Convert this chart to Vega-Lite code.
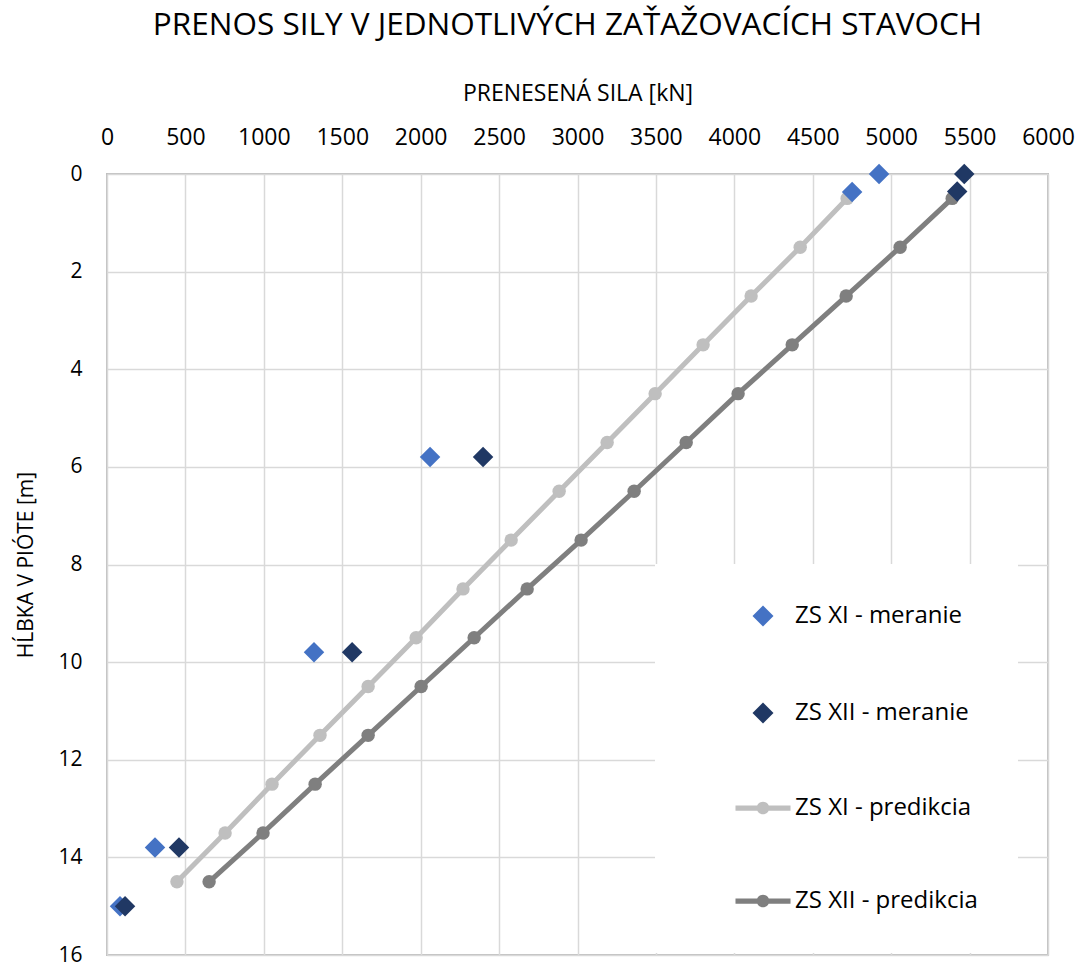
{
  "$schema": "https://vega.github.io/schema/vega-lite/v6.json",
  "autosize": {"type": "none"},
  "padding": {"left": 107, "top": 174, "right": 36, "bottom": 9},
  "width": 941,
  "height": 781,
  "background": "white",
  "title": {
    "text": "PRENOS SILY V JEDNOTLIVÝCH ZAŤAŽOVACÍCH STAVOCH",
    "font": "Open Sans",
    "fontSize": 31.5,
    "fontWeight": "normal",
    "color": "#000000",
    "anchor": "middle",
    "dx": -10,
    "offset": 41
  },
  "config": {
    "font": "Open Sans",
    "view": {"stroke": "#BFBFBF", "strokeWidth": 2},
    "axis": {
      "labelFont": "Open Sans",
      "titleFont": "Open Sans",
      "labelColor": "#000000",
      "titleColor": "#000000",
      "titleFontWeight": "normal",
      "gridColor": "#D9D9D9",
      "gridWidth": 1.5,
      "domain": false,
      "ticks": false,
      "tickSize": 0
    },
    "legend": {
      "labelFont": "Open Sans",
      "labelFontSize": 24,
      "labelColor": "#000000",
      "labelLimit": 400
    }
  },
  "data": {
    "values": [
      {"series": "ZS XI - meranie", "force": 4923, "depth": 0},
      {"series": "ZS XI - meranie", "force": 4751, "depth": 0.37},
      {"series": "ZS XI - meranie", "force": 2060, "depth": 5.8},
      {"series": "ZS XI - meranie", "force": 1320, "depth": 9.8},
      {"series": "ZS XI - meranie", "force": 306, "depth": 13.8},
      {"series": "ZS XI - meranie", "force": 83, "depth": 15},
      {"series": "ZS XII - meranie", "force": 5466, "depth": 0},
      {"series": "ZS XII - meranie", "force": 5421, "depth": 0.36},
      {"series": "ZS XII - meranie", "force": 2398, "depth": 5.8},
      {"series": "ZS XII - meranie", "force": 1563, "depth": 9.8},
      {"series": "ZS XII - meranie", "force": 459, "depth": 13.8},
      {"series": "ZS XII - meranie", "force": 115, "depth": 15},
      {"series": "ZS XI - predikcia", "force": 4719, "depth": 0.5},
      {"series": "ZS XI - predikcia", "force": 4420, "depth": 1.5},
      {"series": "ZS XI - predikcia", "force": 4107, "depth": 2.5},
      {"series": "ZS XI - predikcia", "force": 3801, "depth": 3.5},
      {"series": "ZS XI - predikcia", "force": 3495, "depth": 4.5},
      {"series": "ZS XI - predikcia", "force": 3189, "depth": 5.5},
      {"series": "ZS XI - predikcia", "force": 2883, "depth": 6.5},
      {"series": "ZS XI - predikcia", "force": 2577, "depth": 7.5},
      {"series": "ZS XI - predikcia", "force": 2270, "depth": 8.5},
      {"series": "ZS XI - predikcia", "force": 1971, "depth": 9.5},
      {"series": "ZS XI - predikcia", "force": 1665, "depth": 10.5},
      {"series": "ZS XI - predikcia", "force": 1358, "depth": 11.5},
      {"series": "ZS XI - predikcia", "force": 1052, "depth": 12.5},
      {"series": "ZS XI - predikcia", "force": 753, "depth": 13.5},
      {"series": "ZS XI - predikcia", "force": 446, "depth": 14.5},
      {"series": "ZS XII - predikcia", "force": 5389, "depth": 0.5},
      {"series": "ZS XII - predikcia", "force": 5057, "depth": 1.5},
      {"series": "ZS XII - predikcia", "force": 4713, "depth": 2.5},
      {"series": "ZS XII - predikcia", "force": 4369, "depth": 3.5},
      {"series": "ZS XII - predikcia", "force": 4024, "depth": 4.5},
      {"series": "ZS XII - predikcia", "force": 3693, "depth": 5.5},
      {"series": "ZS XII - predikcia", "force": 3361, "depth": 6.5},
      {"series": "ZS XII - predikcia", "force": 3023, "depth": 7.5},
      {"series": "ZS XII - predikcia", "force": 2679, "depth": 8.5},
      {"series": "ZS XII - predikcia", "force": 2341, "depth": 9.5},
      {"series": "ZS XII - predikcia", "force": 2003, "depth": 10.5},
      {"series": "ZS XII - predikcia", "force": 1665, "depth": 11.5},
      {"series": "ZS XII - predikcia", "force": 1327, "depth": 12.5},
      {"series": "ZS XII - predikcia", "force": 995, "depth": 13.5},
      {"series": "ZS XII - predikcia", "force": 651, "depth": 14.5}
    ]
  },
  "encoding": {
    "x": {
      "field": "force",
      "type": "quantitative",
      "scale": {"domain": [0, 6000], "nice": false, "zero": false},
      "axis": {
        "orient": "top",
        "title": "PRENESENÁ SILA [kN]",
        "titleFontSize": 23,
        "titlePadding": 21,
        "labelFontSize": 23,
        "labelPadding": 25,
        "values": [0, 500, 1000, 1500, 2000, 2500, 3000, 3500, 4000, 4500, 5000, 5500, 6000],
        "format": "d",
        "labelFlush": false
      }
    },
    "y": {
      "field": "depth",
      "type": "quantitative",
      "scale": {"domain": [0, 16], "reverse": true, "nice": false, "zero": false},
      "axis": {
        "title": "HĹBKA V PIÓTE [m]",
        "titleFontSize": 21,
        "titlePadding": 21,
        "labelFontSize": 21,
        "labelPadding": 25,
        "values": [0, 2, 4, 6, 8, 10, 12, 14, 16],
        "labelFlush": false
      }
    }
  },
  "layer": [
    {
      "transform": [{"filter": {"field": "series", "oneOf": ["ZS XI - predikcia", "ZS XII - predikcia"]}}],
      "mark": {"type": "line", "strokeWidth": 5},
      "encoding": {
        "stroke": {
          "field": "series",
          "type": "nominal",
          "scale": {"domain": ["ZS XI - predikcia", "ZS XII - predikcia"], "range": ["#BFBFBF", "#7F7F7F"]},
          "legend": null
        }
      }
    },
    {
      "transform": [{"filter": {"field": "series", "oneOf": ["ZS XI - predikcia", "ZS XII - predikcia"]}}],
      "mark": {"type": "point", "filled": true, "shape": "circle", "size": 180, "opacity": 1},
      "encoding": {
        "fill": {
          "field": "series",
          "type": "nominal",
          "scale": {"domain": ["ZS XI - predikcia", "ZS XII - predikcia"], "range": ["#BFBFBF", "#7F7F7F"]},
          "legend": null
        }
      }
    },
    {
      "transform": [{"filter": {"field": "series", "oneOf": ["ZS XI - meranie", "ZS XII - meranie"]}}],
      "mark": {"type": "point", "filled": true, "size": 420, "opacity": 1},
      "encoding": {
        "color": {
          "field": "series",
          "type": "nominal",
          "scale": {
            "domain": ["ZS XI - meranie", "ZS XII - meranie", "ZS XI - predikcia", "ZS XII - predikcia"],
            "range": ["#4472C4", "#203864", "#BFBFBF", "#7F7F7F"]
          },
          "legend": {
            "title": null,
            "orient": "none",
            "legendX": 548,
            "legendY": 390,
            "padding": 40,
            "fillColor": "white",
            "symbolSize": 441,
            "symbolOffset": 56,
            "labelOffset": 20,
            "rowPadding": 69,
            "symbolOpacity": 1
          }
        },
        "shape": {
          "field": "series",
          "type": "nominal",
          "scale": {
            "domain": ["ZS XI - meranie", "ZS XII - meranie", "ZS XI - predikcia", "ZS XII - predikcia"],
            "range": [
              "diamond",
              "diamond",
              "M-2.62,-0.25H-0.55V0.25H-2.62Z M0.55,-0.25H2.62V0.25H0.55Z M-0.6,0A0.6,0.6 0 1,1 0.6,0A0.6,0.6 0 1,1 -0.6,0Z",
              "M-2.62,-0.25H-0.55V0.25H-2.62Z M0.55,-0.25H2.62V0.25H0.55Z M-0.6,0A0.6,0.6 0 1,1 0.6,0A0.6,0.6 0 1,1 -0.6,0Z"
            ]
          },
          "legend": {
            "title": null,
            "orient": "none",
            "legendX": 548,
            "legendY": 390,
            "padding": 40,
            "fillColor": "white",
            "symbolSize": 441,
            "symbolOffset": 56,
            "labelOffset": 20,
            "rowPadding": 69,
            "symbolOpacity": 1
          }
        }
      }
    }
  ]
}
